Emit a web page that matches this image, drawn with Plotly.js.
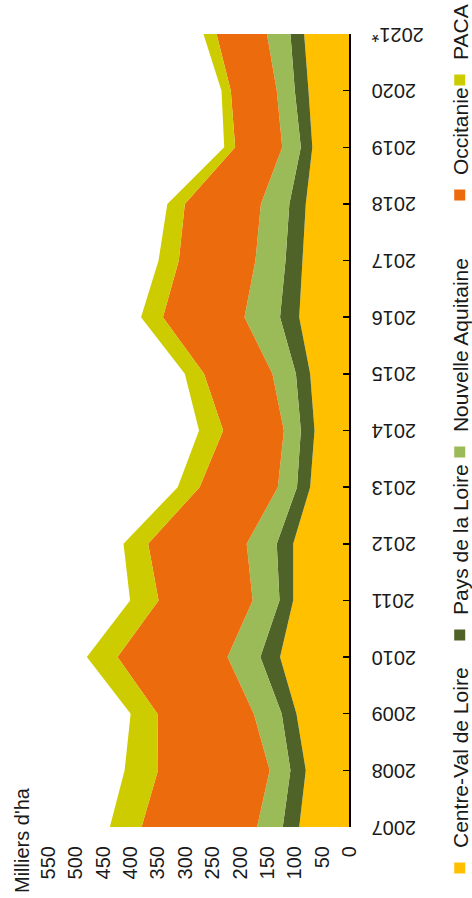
<!DOCTYPE html>
<html>
<head>
<meta charset="utf-8">
<script src="https://cdn.plot.ly/plotly-3.0.1.min.js"></script>
<style>
  html, body { margin:0; padding:0; background:#fff; overflow:hidden; width:472px; height:898px; }
  #wrap { position:absolute; left:0; top:0; width:898px; height:472px;
          transform-origin: 0 0; transform: translateY(898px) rotate(-90deg); }
  #chart { width:898px; height:472px; }
</style>
</head>
<body>
<div id="wrap"><div id="chart"></div></div>
<script>
const years = ['2007','2008','2009','2010','2011','2012','2013','2014','2015','2016','2017','2018','2019','2020','2021*'];
const centreValDeLoire   = [91, 79, 96, 126, 102, 102, 71, 63, 71, 91, 85, 79, 67, 74, 82];
const paysDeLaLoire      = [30, 28, 27, 36, 25, 30, 24, 25, 26, 35, 31, 30, 21, 25, 25];
const nouvelleAquitaine  = [47, 38, 51, 60, 49, 55, 35, 31, 43, 65, 55, 52, 34, 33, 43];
const occitanie          = [211, 204, 176, 201, 172, 180, 143, 111, 125, 149, 140, 139, 86, 84, 92];
const paca               = [58, 61, 49, 56, 52, 45, 40, 44, 35, 40, 37, 32, 20, 17, 24];
const valueTicks = [0, 50, 100, 150, 200, 250, 300, 350, 400, 450, 500, 550];

const seriesNames  = ['Centre-Val de Loire', 'Pays de la Loire', 'Nouvelle Aquitaine', 'Occitanie', 'PACA'];
const seriesValues = [centreValDeLoire, paysDeLaLoire, nouvelleAquitaine, occitanie, paca];
const seriesColors = ['#FFC000', '#4F6228', '#9BBB59', '#EC6B0C', '#CCCC00'];
// left edge (paper x) of each legend entry
const legendX = [-0.0769, 0.2169, 0.4476, 0.7718, 0.9168];

const fontFam = '"Liberation Sans", Arial, sans-serif';
const legendIds = ['legend', 'legend2', 'legend3', 'legend4', 'legend5'];

const traces = [];
seriesNames.forEach((name, i) => {
  traces.push({
    type: 'scatter', x: years, y: seriesValues[i], name: name,
    stackgroup: 'one', mode: 'none', fillcolor: seriesColors[i],
    line: {width: 0}, showlegend: false, hoverinfo: 'skip'
  });
});
seriesNames.forEach((name, i) => {
  traces.push({
    type: 'scatter', x: [null], y: [null], name: name, mode: 'markers',
    marker: {symbol: 'square', size: 11, color: seriesColors[i]},
    showlegend: true, legend: legendIds[i], hoverinfo: 'skip'
  });
});

const layout = {
  width: 898, height: 472,
  margin: {l: 71, r: 34, t: 48, b: 123, autoexpand: false},
  paper_bgcolor: '#fff', plot_bgcolor: '#fff',
  font: {family: fontFam, size: 20, color: '#1a1a1a'},
  showlegend: true,
  xaxis: {
    type: 'category', range: [0, 14], fixedrange: true,
    showline: true, linecolor: '#000', linewidth: 1.5,
    ticks: 'inside', ticklen: 6, tickwidth: 1.5, tickcolor: '#000',
    tickangle: -90, showgrid: false, zeroline: false, ticklabelstandoff: 13,
    tickfont: {family: fontFam, size: 20, color: '#1a1a1a'}
  },
  yaxis: {
    range: [0, 550], fixedrange: true, tickvals: valueTicks,
    showline: false, showgrid: false, zeroline: false, ticks: '',
    ticklabelstandoff: 18,
    tickfont: {family: fontFam, size: 20, color: '#1a1a1a'}
  },
  annotations: [{
    text: "Milliers d'ha", xref: 'paper', yref: 'paper',
    x: -0.0858, xanchor: 'left', y: 1.088, yanchor: 'middle',
    showarrow: false, font: {family: fontFam, size: 20, color: '#1a1a1a'}
  }]
};
legendIds.forEach((id, i) => {
  layout[id] = {
    orientation: 'h', x: legendX[i], xanchor: 'left', y: -0.369, yanchor: 'middle',
    font: {family: fontFam, size: 21, color: '#1a1a1a'},
    bgcolor: 'rgba(0,0,0,0)'
  };
});

Plotly.newPlot('chart', traces, layout, {staticPlot: true, displayModeBar: false});
</script>
</body>
</html>
